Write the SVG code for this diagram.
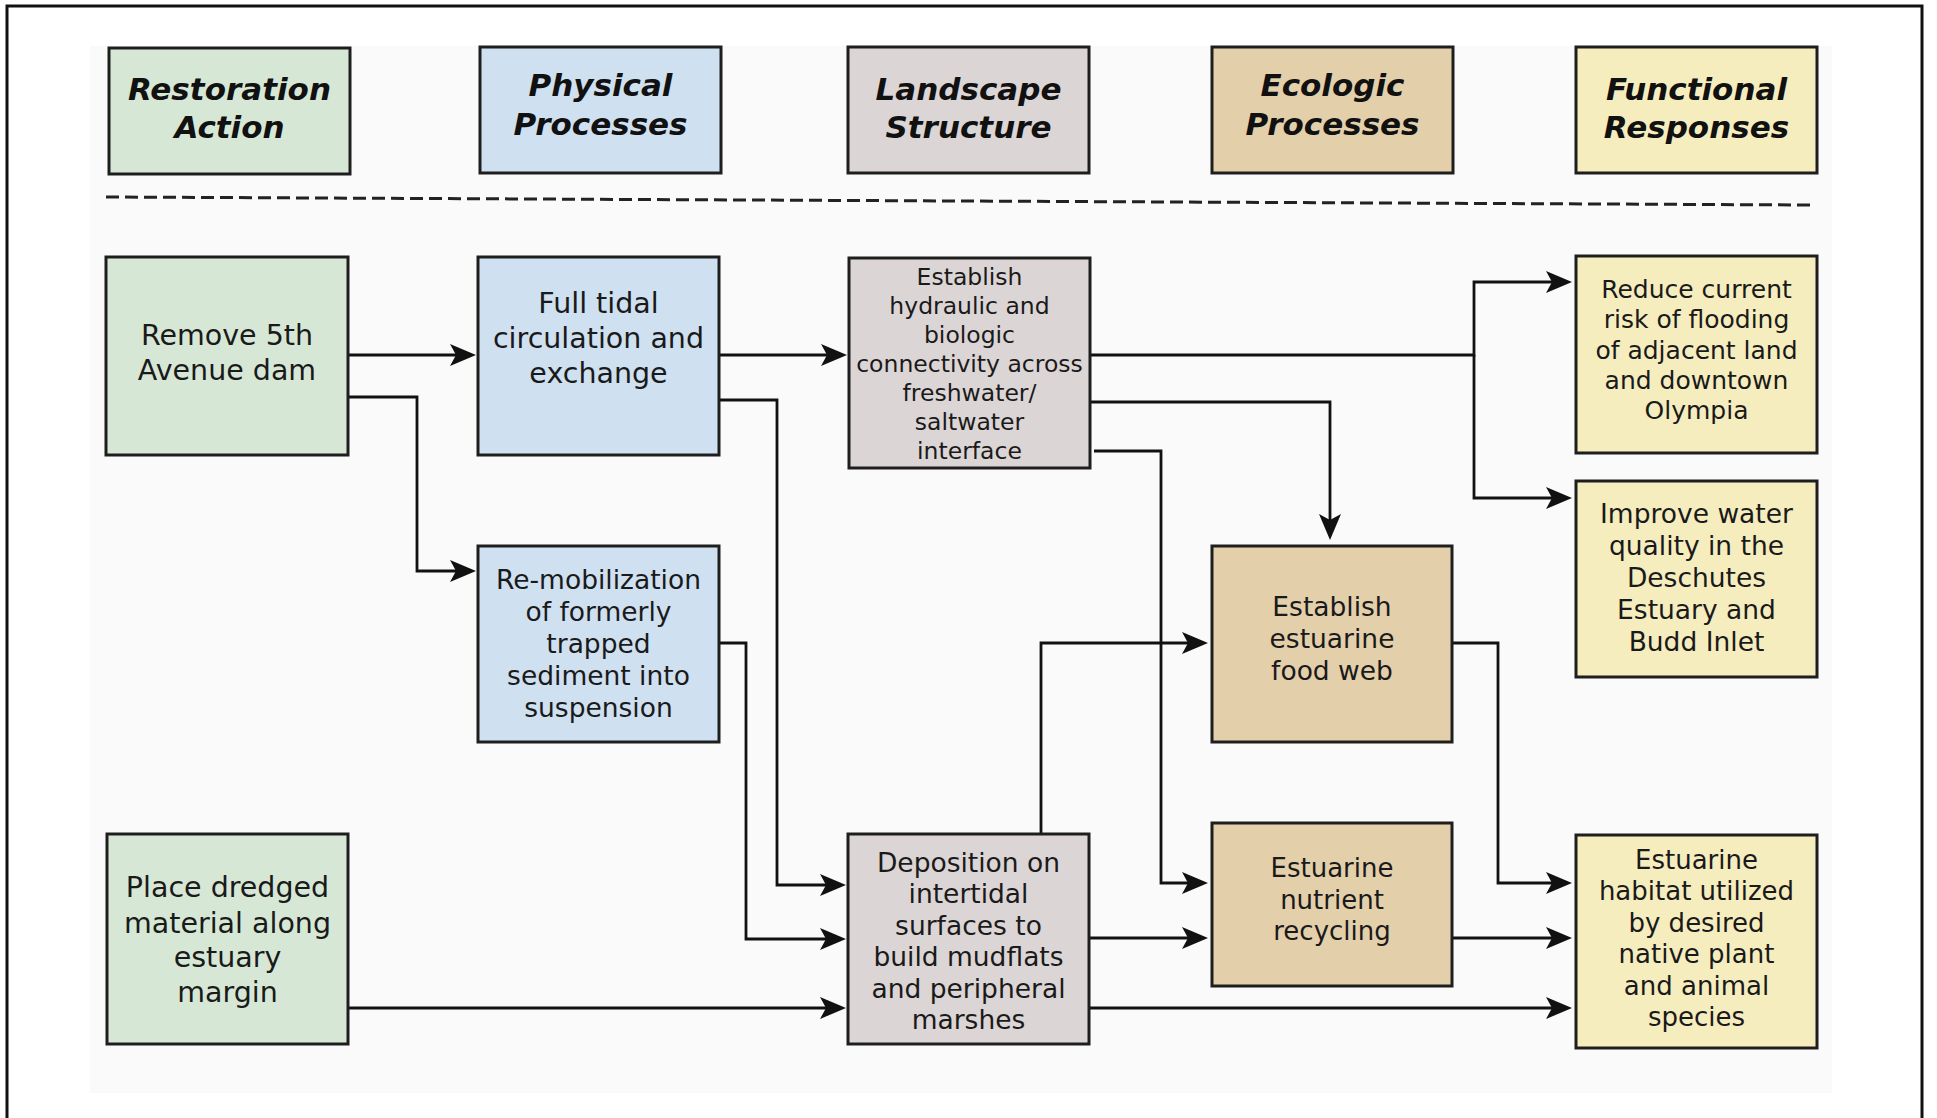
<svg xmlns="http://www.w3.org/2000/svg" width="1937" height="1118" viewBox="0 0 1937 1118">
<style>
.box{stroke:#1e1e1e;stroke-width:3}
.g{fill:#d6e8d5}.b{fill:#cfe0f0}.s{fill:#dcd5d5}.t{fill:#e4cfab}.y{fill:#f6edbf}
.hd{font-family:"DejaVu Sans","Verdana",sans-serif;font-weight:bold;font-style:italic;font-size:31px;fill:#111;text-anchor:middle}
.tx{font-family:"DejaVu Sans","Verdana",sans-serif;fill:#1a1a1a;text-anchor:middle}
.c{fill:none;stroke:#111;stroke-width:2.8;marker-end:url(#ah)}
</style>
<defs>
<marker id="ah" markerUnits="userSpaceOnUse" markerWidth="28" markerHeight="24" refX="17" refY="11" orient="auto" viewBox="0 0 28 24">
<path d="M0,0 L26,11 L0,22 L6,11 Z" fill="#111"/>
</marker>
</defs>
<rect x="0" y="0" width="1937" height="1118" fill="#ffffff"/>
<path d="M7,1118 V6 H1922 V1118" fill="none" stroke="#111" stroke-width="3"/>
<rect x="90" y="46" width="1742" height="1047" fill="#fafafa"/>

<g id="h-restoration"><rect class="box g" x="109" y="48" width="241" height="126"/><text class="hd" x="229.5" y="100">Restoration</text><text class="hd" x="229.5" y="138">Action</text></g>
<g id="h-physical"><rect class="box b" x="480" y="47" width="241" height="126"/><text class="hd" x="600.5" y="96">Physical</text><text class="hd" x="600.5" y="135">Processes</text></g>
<g id="h-landscape"><rect class="box s" x="848" y="47" width="241" height="126"/><text class="hd" x="968.5" y="100">Landscape</text><text class="hd" x="968.5" y="138">Structure</text></g>
<g id="h-ecologic"><rect class="box t" x="1212" y="47" width="241" height="126"/><text class="hd" x="1332.5" y="96">Ecologic</text><text class="hd" x="1332.5" y="135">Processes</text></g>
<g id="h-functional"><rect class="box y" x="1576" y="47" width="241" height="126"/><text class="hd" x="1696.5" y="100">Functional</text><text class="hd" x="1696.5" y="138">Responses</text></g>

<line x1="106" y1="197" x2="1813" y2="205" stroke="#222" stroke-width="3" stroke-dasharray="13 6"/>

<g id="connectors">
<path class="c" d="M348,355 H467"/>
<path class="c" d="M348,397 H417 V571 H467"/>
<path class="c" d="M719,355 H838"/>
<path class="c" d="M719,400 H777 V885 H837"/>
<path class="c" d="M719,643 H746 V939 H837"/>
<path class="c" d="M348,1008 H837"/>
<path class="c" d="M1090,355 H1474 V282 H1563"/>
<path class="c" d="M1474,355 V498 H1563"/>
<path class="c" d="M1090,402 H1330 V531"/>
<path class="c" d="M1094,451 H1161 V883 H1199"/>
<path class="c" d="M1041,834 V643 H1199"/>
<path class="c" d="M1089,938 H1199"/>
<path class="c" d="M1452,643 H1498 V883 H1563"/>
<path class="c" d="M1452,938 H1563"/>
<path class="c" d="M1089,1008 H1563"/>
</g>

<g id="n-remove"><rect class="box g" x="106" y="257" width="242" height="198"/>
<text class="tx" font-size="28.5"><tspan x="227" y="345">Remove 5th</tspan><tspan x="227" y="380">Avenue dam</tspan></text></g>

<g id="n-tidal"><rect class="box b" x="478" y="257" width="241" height="198"/>
<text class="tx" font-size="28.5"><tspan x="598.5" y="313">Full tidal</tspan><tspan x="598.5" y="348">circulation and</tspan><tspan x="598.5" y="383">exchange</tspan></text></g>

<g id="n-remob"><rect class="box b" x="478" y="546" width="241" height="196"/>
<text class="tx" font-size="26.5"><tspan x="598.5" y="589">Re-mobilization</tspan><tspan x="598.5" y="621">of formerly</tspan><tspan x="598.5" y="653">trapped</tspan><tspan x="598.5" y="685">sediment into</tspan><tspan x="598.5" y="717">suspension</tspan></text></g>

<g id="n-hydraulic"><rect class="box s" x="849" y="258" width="241" height="210"/>
<text class="tx" font-size="23.5"><tspan x="969.5" y="284.5">Establish</tspan><tspan x="969.5" y="313.5">hydraulic and</tspan><tspan x="969.5" y="342.5">biologic</tspan><tspan x="969.5" y="371.5">connectivity across</tspan><tspan x="969.5" y="400.5">freshwater/</tspan><tspan x="969.5" y="429.5">saltwater</tspan><tspan x="969.5" y="458.5">interface</tspan></text></g>

<g id="n-reduce"><rect class="box y" x="1576" y="256" width="241" height="197"/>
<text class="tx" font-size="25"><tspan x="1696.5" y="298">Reduce current</tspan><tspan x="1696.5" y="328">risk of flooding</tspan><tspan x="1696.5" y="358.5">of adjacent land</tspan><tspan x="1696.5" y="389">and downtown</tspan><tspan x="1696.5" y="419">Olympia</tspan></text></g>

<g id="n-improve"><rect class="box y" x="1576" y="481" width="241" height="196"/>
<text class="tx" font-size="26.5"><tspan x="1696.5" y="523">Improve water</tspan><tspan x="1696.5" y="555">quality in the</tspan><tspan x="1696.5" y="587">Deschutes</tspan><tspan x="1696.5" y="619">Estuary and</tspan><tspan x="1696.5" y="651">Budd Inlet</tspan></text></g>

<g id="n-foodweb"><rect class="box t" x="1212" y="546" width="240" height="196"/>
<text class="tx" font-size="26.5"><tspan x="1332" y="616">Establish</tspan><tspan x="1332" y="648">estuarine</tspan><tspan x="1332" y="680">food web</tspan></text></g>

<g id="n-place"><rect class="box g" x="107" y="834" width="241" height="210"/>
<text class="tx" font-size="28.5"><tspan x="227.5" y="897">Place dredged</tspan><tspan x="227.5" y="933">material along</tspan><tspan x="227.5" y="967">estuary</tspan><tspan x="227.5" y="1002">margin</tspan></text></g>

<g id="n-deposition"><rect class="box s" x="848" y="834" width="241" height="210"/>
<text class="tx" font-size="26.5"><tspan x="968.5" y="871.5">Deposition on</tspan><tspan x="968.5" y="903">intertidal</tspan><tspan x="968.5" y="934.5">surfaces to</tspan><tspan x="968.5" y="966">build mudflats</tspan><tspan x="968.5" y="997.5">and peripheral</tspan><tspan x="968.5" y="1029">marshes</tspan></text></g>

<g id="n-nutrient"><rect class="box t" x="1212" y="823" width="240" height="163"/>
<text class="tx" font-size="26"><tspan x="1332" y="877">Estuarine</tspan><tspan x="1332" y="908.5">nutrient</tspan><tspan x="1332" y="940">recycling</tspan></text></g>

<g id="n-habitat"><rect class="box y" x="1576" y="835" width="241" height="213"/>
<text class="tx" font-size="26"><tspan x="1696.5" y="868.5">Estuarine</tspan><tspan x="1696.5" y="900">habitat utilized</tspan><tspan x="1696.5" y="931.5">by desired</tspan><tspan x="1696.5" y="963">native plant</tspan><tspan x="1696.5" y="994.5">and animal</tspan><tspan x="1696.5" y="1026">species</tspan></text></g>
</svg>
